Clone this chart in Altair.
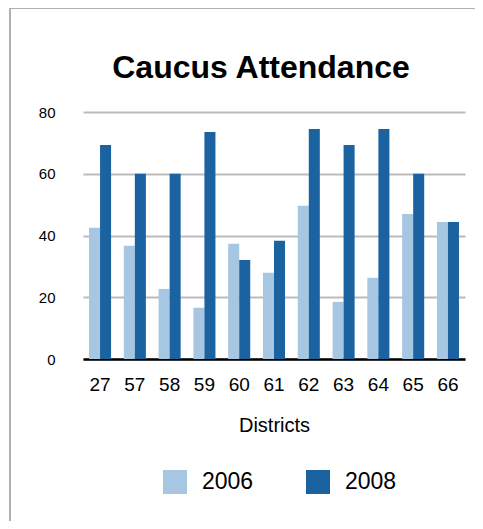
import altair as alt
import pandas as pd

districts = ["27", "57", "58", "59", "60", "61", "62", "63", "64", "65", "66"]
att_2006 = [42.5, 36.7, 22.7, 16.6, 37.3, 27.9, 49.6, 18.5, 26.3, 47.0, 44.4]
att_2008 = [69.3, 60.0, 60.0, 73.5, 32.1, 38.3, 74.5, 69.3, 74.5, 60.0, 44.4]
years = ["2006", "2008"]
colors = ["#a7c6e1", "#1a62a0"]

rows = []
for d, a, b in zip(districts, att_2006, att_2008):
    rows.append({"District": d, "Year": years[0], "Attendance": a})
    rows.append({"District": d, "Year": years[1], "Attendance": b})
df = pd.DataFrame(rows)

FONT = "Liberation Sans"

bars = alt.Chart(df).mark_bar().encode(
    x=alt.X("District:N", sort=districts,
            scale=alt.Scale(paddingInner=0.366, paddingOuter=0.173),
            axis=alt.Axis(title="Districts", labelAngle=0, labelFontSize=19,
                          labelColor="#000", labelPadding=16, ticks=False,
                          domainColor="#000", domainWidth=2.5,
                          titleFontSize=20, titleFontWeight="normal",
                          titleColor="#000", titlePadding=21, labelFont=FONT,
                          titleFont=FONT)),
    xOffset=alt.XOffset("Year:N", scale=alt.Scale(paddingInner=0, paddingOuter=0)),
    y=alt.Y("Attendance:Q", scale=alt.Scale(domain=[0, 80], nice=False),
            axis=alt.Axis(title=None, values=[0, 20, 40, 60, 80], domain=False,
                          ticks=False, labelFontSize=15, labelColor="#000",
                          labelPadding=28, gridColor="#bbbbbb", gridWidth=2,
                          labelFont=FONT)),
    color=alt.Color("Year:N", scale=alt.Scale(domain=years, range=colors),
                    legend=alt.Legend(title=None, orient="none", direction="horizontal",
                                      legendX=80, legendY=358,
                                      symbolType="square", symbolSize=576,
                                      symbolStrokeWidth=0, symbolOpacity=1,
                                      labelFontSize=23, labelColor="#000",
                                      labelFont=FONT, labelOffset=15,
                                      columnPadding=52)),
)

frame_top = alt.Chart(df).mark_rule(color="#b0b0b0", strokeWidth=1.5, clip=False).encode(
    x=alt.value(-73), x2=alt.value(420), y=alt.value(-104)
)
frame_left = alt.Chart(df).mark_rule(color="#b0b0b0", strokeWidth=1.5, clip=False).encode(
    x=alt.value(-73), y=alt.value(-104), y2=alt.value(430)
)

chart = alt.layer(bars, frame_top, frame_left).properties(
    width=382, height=247,
    title=alt.TitleParams("Caucus Attendance", fontSize=32, font=FONT,
                          fontWeight="bold", color="#000", anchor="middle",
                          frame="group", baseline="alphabetic",
                          offset=0, dx=-13, dy=103),
    autosize=alt.AutoSizeParams(type="none"),
    padding={"left": 75, "top": 104, "right": 10, "bottom": 162},
).configure_view(stroke=None)

chart.save("out.html", embed_options={"renderer": "svg", "actions": False})
